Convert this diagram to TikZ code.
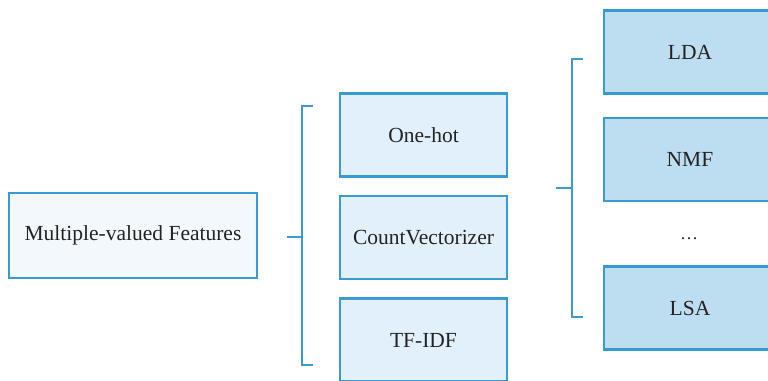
\documentclass[tikz,border=0pt]{standalone}
\usepackage{fontspec}
\setmainfont{Liberation Serif}
\definecolor{bord}{RGB}{58,155,210}
\definecolor{fillA}{RGB}{243,248,252}
\definecolor{fillB}{RGB}{225,240,250}
\definecolor{fillC}{RGB}{189,222,241}
\definecolor{txt}{RGB}{35,35,35}
\tikzset{
  box/.style={draw=bord, line width=2.6pt, text=txt, font=\fontsize{21.5}{25}\selectfont, inner sep=0pt},
  boxA/.style={box, fill=fillA, minimum width=248pt, minimum height=85pt},
  boxB/.style={box, fill=fillB, minimum width=167pt, minimum height=83pt},
  boxC/.style={box, fill=fillC, minimum width=172pt, minimum height=83pt},
  brk/.style={draw=bord, line width=2.6pt}
}
\begin{document}
\begin{tikzpicture}[x=1pt,y=-1pt]
\useasboundingbox (0,0) rectangle (768,380);
\fill[white] (0,0) rectangle (768,380);
\clip (0,0) rectangle (768,380);
\node[boxA] (mvf) at (133,235.5) {Multiple-valued Features};
\node[boxB] (onehot) at (423.5,135) {One-hot};
\node[boxB] (count) at (423.5,237.5) {CountVectorizer};
\node[boxB] (tfidf) at (423.5,340) {TF-IDF};
\node[boxC] (lda) at (690,52) {LDA};
\node[boxC] (nmf) at (690,159.5) {NMF};
\node[text=txt, font=\fontsize{18}{22}\selectfont] (dots) at (689,239) {\dots};
\node[boxC] (lsa) at (690,308) {LSA};
% left bracket
\coordinate (l1) at (313,106);
\coordinate (l2) at (302,106);
\coordinate (l3) at (302,365);
\coordinate (l4) at (313,365);
\coordinate (lm) at (302,237);
\coordinate (lt) at (287,237);
\draw[brk] (l1) -- (l2) -- (l3) -- (l4);
\draw[brk] (lt) -- (lm);
% right bracket
\coordinate (r1) at (583,59);
\coordinate (r2) at (572,59);
\coordinate (r3) at (572,317);
\coordinate (r4) at (583,317);
\coordinate (rm) at (572,188);
\coordinate (rt) at (556,188);
\draw[brk] (r1) -- (r2) -- (r3) -- (r4);
\draw[brk] (rt) -- (rm);
\end{tikzpicture}
\end{document}
